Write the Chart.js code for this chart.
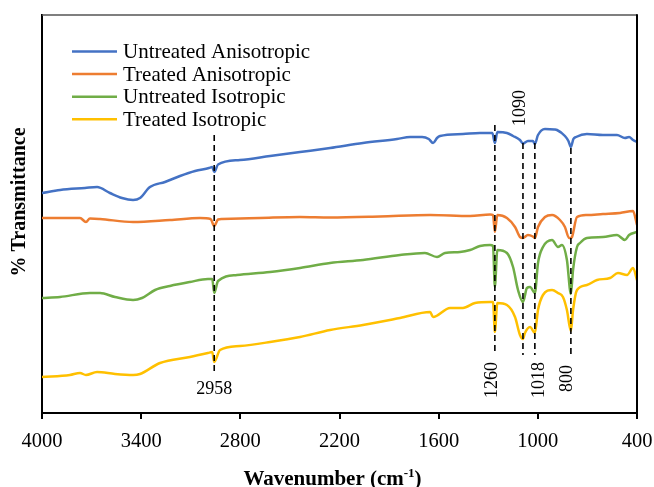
<!DOCTYPE html>
<html><head><meta charset="utf-8">
<script src="https://cdn.jsdelivr.net/npm/chart.js@4.4.1/dist/chart.umd.min.js"></script>
<style>html,body{margin:0;padding:0;background:#fff}#wrap{width:654px;height:487px}</style>
</head><body><div id="wrap"><canvas id="ftir"></canvas></div>
<script>
// ── spectra (wavenumber cm-1 / offset transmittance, arbitrary units) ──
const uaWn=[4000,3890,3740,3667,3589,3516,3449,3407,3347,3256,3165,3074,2990,2970,2958,2935,2802,2620,2439,2257,2058,1852,1773,1700,1660,1634,1610,1592,1453,1350,1275,1260,1245,1187,1150,1108,1090,1060,1030,1018,999,957,900,884,836,815,800,785,769,703,606,521,473,448,424,400];
const uaT=[220,223,225,226,220,215,213,215,226,231,237,242,245,246,241,248.5,253,257,261,265,270,274,276,276,274,270,275,277,279,280,280,270,281,280,277,273,269.5,272,272,269,278,284,283.5,283,277,272,266,274,276,279,278,278,275,276,273,271];
const taWn=[4000,3770,3734,3710,3649,3449,3226,3044,2980,2958,2935,2911,2681,2439,2257,1955,1652,1410,1289,1271,1260,1245,1187,1138,1108,1090,1060,1030,1018,999,957,914,866,836,811,800,793,763,703,606,503,424,400];
const taT=[195,195,191,194.5,194,191,193,195,194,187,193.5,194,195,196,195.5,196.5,198,197,198.5,198,181,198,195,186,176,175,178,176.5,175,186,196,198,193,186,175,175,176,196,198,199,200,202,188];
const uiWn=[4000,3891,3710,3649,3558,3449,3395,3316,3226,3105,2996,2970,2958,2935,2820,2620,2439,2257,2058,1834,1683,1610,1562,1471,1410,1350,1289,1271,1260,1245,1187,1150,1120,1090,1066,1047,1018,999,969,914,878,854,824,800,787,763,745,703,606,521,473,448,400];
const uiT=[115,116,120,120,116,113,115,123,127,131,134,134,120,132,138,141,145,150,153,158,160,156,160,161,163,167,168,167,126,163,160,146,123,111,125,126,120,150,166,173,166,168,153,119,143,166,170,175,176,178,173,178,181];
const tiWn=[4000,3831,3770,3734,3667,3558,3449,3407,3286,3105,2996,2970,2958,2923,2802,2620,2439,2257,2058,1834,1652,1634,1531,1453,1380,1289,1271,1260,1245,1187,1138,1108,1090,1078,1047,1018,999,969,914,878,848,824,800,787,763,703,642,563,515,460,424,400];
const tiT=[36,38,40,38,41,39,38,39,50,56,60,61,51,63,67,71,76,83,88,95,101,96,105,105,110,111,111,81,110,108,96,78,74,80,86,80,103,118,123,120,116,103,82,103,123,128,133,135,140,138,145,133];

const seriesNames=['Untreated Anisotropic','Treated Anisotropic','Untreated Isotropic','Treated Isotropic'];
const seriesColors=['#4472C4','#ED7D31','#70AD47','#FFC000'];
const xTicks=[4000,3400,2800,2200,1600,1000,400];

// peak markers: dashed line from top to bottom (y units)
const markerWn=[2958,1260,1090,1018,800];
const markerTop=[278,288,270,270,265];
const markerBottom=[40,58,58,58,58];

const SERIF='"Liberation Serif","Times New Roman",serif';
const pts=(wn,t)=>wn.map((w,i)=>({x:w,y:t[i]}));
const spectra=[[uaWn,uaT],[taWn,taT],[uiWn,uiT],[tiWn,tiT]];

// label placement per marker: rot = vertical text, at = 'bottom'|'top', dx/dy px offsets
const markerLabelCfg=[
  {rot:false,at:'bottom',dx:0,dy:16},
  {rot:true,at:'bottom',dx:-3,dy:7},
  {rot:true,at:'top',dx:-3,dy:-17},
  {rot:true,at:'bottom',dx:4,dy:7},
  {rot:true,at:'bottom',dx:-4,dy:10},
];

const ftirDecor={id:'ftirDecor',
  afterDraw(chart){
    const{ctx,chartArea:a,scales:{x,y}}=chart;
    ctx.save();
    // frame top + right
    ctx.strokeStyle='#555';ctx.lineWidth=1.5;
    ctx.beginPath();ctx.moveTo(a.left,a.top);ctx.lineTo(a.right,a.top);ctx.stroke();
    ctx.strokeStyle='#000';ctx.lineWidth=2;
    ctx.beginPath();ctx.moveTo(a.right,a.top-0.75);ctx.lineTo(a.right,a.bottom);ctx.stroke();

    // peak labels
    ctx.fillStyle='#000';ctx.font=`18px ${SERIF}`;
    markerWn.forEach((w,i)=>{
      const c=markerLabelCfg[i];
      const px=x.getPixelForValue(w)+c.dx;
      const py=(c.at==='bottom'?y.getPixelForValue(markerBottom[i]):y.getPixelForValue(markerTop[i]))+c.dy;
      ctx.save();ctx.translate(px,py);
      if(c.rot){ctx.rotate(-Math.PI/2);ctx.textAlign=c.at==='bottom'?'right':'left';}
      else ctx.textAlign='center';
      ctx.textBaseline='middle';
      ctx.fillText(String(w),0,0);
      ctx.restore();
    });

    // legend
    ctx.font=`21px ${SERIF}`;ctx.textBaseline='middle';ctx.textAlign='left';
    seriesNames.forEach((n,i)=>{
      const ly=51.5+i*22.6;
      ctx.strokeStyle=seriesColors[i];ctx.lineWidth=2.5;
      ctx.beginPath();ctx.moveTo(72,ly);ctx.lineTo(117,ly);ctx.stroke();
      ctx.fillStyle='#000';ctx.fillText(n,123,ly+1);
    });

    // y title
    ctx.save();ctx.translate(20,202);ctx.rotate(-Math.PI/2);
    ctx.font=`bold 20px ${SERIF}`;ctx.textAlign='center';ctx.textBaseline='middle';
    ctx.fillText('% Transmittance',0,0);
    ctx.restore();

    // x title with superscript
    const p1='Wavenumber (cm',sup='-1',p2=')';
    ctx.textBaseline='alphabetic';ctx.textAlign='left';
    ctx.font=`bold 21px ${SERIF}`;const w1=ctx.measureText(p1).width,w3=ctx.measureText(p2).width;
    ctx.font=`bold 13px ${SERIF}`;const w2=ctx.measureText(sup).width;
    let tx=(a.left+a.right)/2-7-(w1+w2+w3)/2;const by=485;
    ctx.font=`bold 21px ${SERIF}`;ctx.fillText(p1,tx,by);tx+=w1;
    ctx.font=`bold 13px ${SERIF}`;ctx.fillText(sup,tx,by-8);tx+=w2;
    ctx.font=`bold 21px ${SERIF}`;ctx.fillText(p2,tx,by);
    ctx.restore();
  }};

const datasets=[
  ...markerWn.map((w,i)=>({label:'m'+w,data:[{x:w,y:markerTop[i]},{x:w,y:markerBottom[i]}],borderColor:'#000',borderWidth:1.6,borderDash:[6,4],pointRadius:0})),
  ...spectra.map((s,i)=>({label:seriesNames[i],data:pts(s[0],s[1]),borderColor:seriesColors[i],borderWidth:2.5,pointRadius:0,cubicInterpolationMode:'monotone'})),
];

new Chart(document.getElementById('ftir'),{
  type:'line',
  data:{datasets},
  options:{responsive:true,maintainAspectRatio:false,animation:false,devicePixelRatio:1,
    layout:{padding:{top:15,right:17,left:0,bottom:0}},
    plugins:{legend:{display:false},tooltip:{enabled:false}},
    scales:{
      x:{type:'linear',reverse:true,min:400,max:4000,
        afterBuildTicks:s=>{s.ticks=xTicks.map(v=>({value:v}));},
        // fixed height, no extra room for the end labels
        afterFit:s=>{s.height=74;s.paddingLeft=0;s.paddingRight=0;},
        grid:{drawOnChartArea:false,drawTicks:true,tickLength:6,color:'#000',lineWidth:2},
        border:{color:'#000',width:2},
        ticks:{callback:v=>String(v),color:'#000',padding:10,maxRotation:0,autoSkip:false,font:{family:SERIF,size:20.5}}},
      y:{min:0,max:398,
        afterFit:s=>{s.width=42;},
        grid:{display:false},
        border:{color:'#000',width:2},
        ticks:{display:false}}
    }},
  plugins:[ftirDecor]
});
</script></body></html>
